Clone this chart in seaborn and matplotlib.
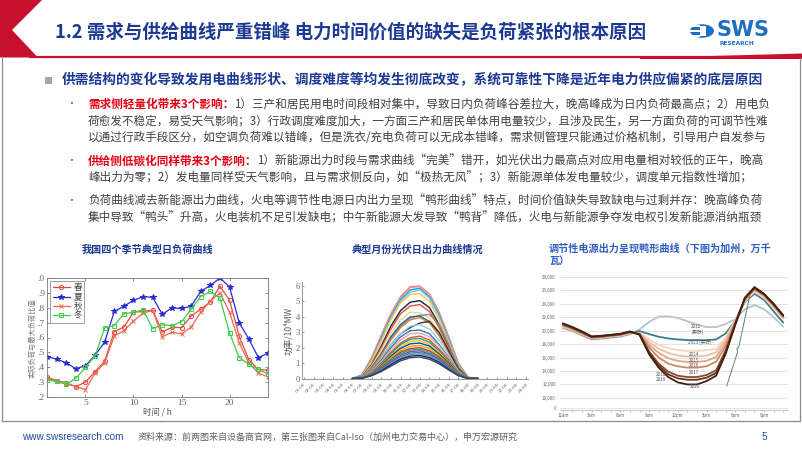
import numpy as np
import pandas as pd
import matplotlib
matplotlib.use("Agg")
import matplotlib.pyplot as plt
import seaborn as sns
from matplotlib.patches import Polygon, Rectangle, Circle
from matplotlib.lines import Line2D

W, H = 802, 451

# ---------------- text content ----------------
title_text = "1.2 需求与供给曲线严重错峰 电力时间价值的缺失是负荷紧张的根本原因"
heading_text = "供需结构的变化导致发用电曲线形状、调度难度等均发生彻底改变，系统可靠性下降是近年电力供应偏紧的底层原因"
b1_red = "需求侧轻量化带来3个影响："
b1_l1 = "1）三产和居民用电时间段相对集中，导致日内负荷峰谷差拉大，晚高峰成为日内负荷最高点；2）用电负"
b1_l2 = "荷愈发不稳定，易受天气影响；3）行政调度难度加大，一方面三产和居民单体用电量较少，且涉及民生，另一方面负荷的可调节性难"
b1_l3 = "以通过行政手段区分，如空调负荷难以错峰，但是洗衣/充电负荷可以无成本错峰，需求侧管理只能通过价格机制，引导用户自发参与"
b2_red = "供给侧低碳化同样带来3个影响："
b2_l1 = "1）新能源出力时段与需求曲线“完美”错开，如光伏出力最高点对应用电量相对较低的正午，晚高"
b2_l2 = "峰出力为零；2）发电量同样受天气影响，且与需求侧反向，如“极热无风”；3）新能源单体发电量较少，调度单元指数性增加；"
b3_l1 = "负荷曲线减去新能源出力曲线，火电等调节性电源日内出力呈现“鸭形曲线”特点，时间价值缺失导致缺电与过剩并存：晚高峰负荷"
b3_l2 = "集中导致“鸭头”升高，火电装机不足引发缺电；中午新能源大发导致“鸭背”降低，火电与新能源争夺发电权引发新能源消纳瓶颈"
chart1_title = "我国四个季节典型日负荷曲线"
chart2_title = "典型月份光伏日出力曲线情况"
chart3_title_1 = "调节性电源出力呈现鸭形曲线（下图为加州，万千"
chart3_title_2 = "瓦）"
footer_url = "www.swsresearch.com"
footer_source = "资料来源：前两图来自设备商官网，第三张图来自Cal-Iso（加州电力交易中心），申万宏源研究"
page_number = "5"

# ---------------- chart 1: seasonal daily load ----------------
hours = list(range(1, 25))
season_names = ["春", "夏", "秋", "冬"]
spring = [0.335, 0.31, 0.295, 0.27, 0.30, 0.37, 0.44, 0.64, 0.67, 0.77, 0.775, 0.785,
          0.635, 0.67, 0.665, 0.745, 0.79, 0.84, 0.945, 0.85, 0.61, 0.45, 0.385, 0.38]
summer = [0.47, 0.455, 0.43, 0.39, 0.41, 0.48, 0.57, 0.775, 0.81, 0.85, 0.875, 0.87,
          0.755, 0.80, 0.795, 0.81, 0.91, 0.95, 1.0, 0.94, 0.70, 0.59, 0.465, 0.495]
autumn = [0.33, 0.305, 0.29, 0.27, 0.25, 0.36, 0.43, 0.61, 0.645, 0.71, 0.765, 0.78,
          0.605, 0.635, 0.625, 0.67, 0.77, 0.845, 0.90, 0.77, 0.565, 0.43, 0.36, 0.335]
winter = [0.315, 0.305, 0.285, 0.325, 0.40, 0.475, 0.665, 0.68, 0.76, 0.77, 0.785, 0.66,
          0.685, 0.68, 0.705, 0.79, 0.875, 0.91, 0.865, 0.63, 0.465, 0.42, 0.385, 0.355]
c1_xticks = [5, 10, 15, 20]
c1_yticks = [0.2, 0.3, 0.4, 0.5, 0.6, 0.7, 0.8, 0.9, 1.0]
c1_yticklabels = [".2", ".3", ".4", ".5", ".6", ".7", ".8", ".9", ".0"]
c1_xlabel = "时间 / h"
c1_ylabel = "实际负荷与最大负荷比值"

# ---------------- chart 2: PV daily output ----------------
pv_hours = list(range(6, 20))
pv_curves = [
    [0, 0.25, 1.35, 2.80, 4.20, 5.30, 5.95, 6.00, 5.50, 4.30, 2.70, 1.00, 0.10, 0],
    [0, 0.20, 1.25, 2.70, 4.10, 5.20, 5.90, 5.95, 5.45, 4.20, 2.60, 0.95, 0.08, 0],
    [0, 0.20, 1.20, 2.60, 4.00, 5.10, 5.75, 5.85, 5.30, 4.10, 2.50, 0.90, 0.05, 0],
    [0, 0.18, 1.15, 2.50, 3.90, 5.00, 5.60, 5.75, 5.20, 4.00, 2.45, 0.85, 0.05, 0],
    [0, 0.15, 1.10, 2.40, 3.80, 4.90, 5.45, 5.50, 5.00, 3.80, 2.30, 0.80, 0.05, 0],
    [0, 0.12, 0.90, 2.10, 3.40, 4.40, 4.95, 5.05, 4.60, 3.50, 2.10, 0.70, 0.04, 0],
    [0, 0.10, 0.85, 2.00, 3.20, 4.20, 4.70, 4.80, 4.35, 3.30, 2.00, 0.65, 0.03, 0],
    [0, 0.10, 0.80, 1.80, 2.90, 3.80, 4.30, 4.25, 3.90, 3.00, 1.80, 0.60, 0.03, 0],
    [0, 0.08, 0.70, 1.60, 2.60, 3.40, 3.90, 4.10, 4.15, 3.50, 2.20, 0.70, 0.03, 0],
    [0, 0.08, 0.70, 1.60, 2.70, 3.50, 4.00, 4.05, 3.70, 2.80, 1.70, 0.55, 0.02, 0],
    [0, 0.07, 0.65, 1.50, 2.50, 3.30, 3.80, 3.95, 3.60, 2.80, 1.70, 0.55, 0.02, 0],
    [0, 0.06, 0.55, 1.30, 2.20, 2.90, 3.30, 3.60, 3.70, 3.00, 1.80, 0.60, 0.02, 0],
    [0, 0.06, 0.55, 1.30, 2.20, 2.90, 3.40, 3.50, 3.20, 2.50, 1.50, 0.50, 0.02, 0],
    [0, 0.05, 0.50, 1.20, 2.00, 2.70, 3.10, 3.15, 2.90, 2.20, 1.35, 0.45, 0.02, 0],
    [0, 0.05, 0.45, 1.10, 1.85, 2.50, 2.90, 2.95, 2.70, 2.10, 1.30, 0.45, 0.01, 0],
    [0, 0.04, 0.40, 1.00, 1.70, 2.30, 2.65, 2.75, 2.50, 1.90, 1.20, 0.40, 0.01, 0],
    [0, 0.04, 0.38, 0.95, 1.60, 2.20, 2.55, 2.60, 2.35, 1.80, 1.10, 0.38, 0.01, 0],
    [0, 0.04, 0.36, 0.90, 1.50, 2.05, 2.40, 2.45, 2.20, 1.70, 1.05, 0.35, 0.01, 0],
    [0, 0.03, 0.33, 0.85, 1.45, 1.95, 2.25, 2.30, 2.10, 1.60, 1.00, 0.33, 0.01, 0],
    [0, 0.03, 0.30, 0.80, 1.35, 1.80, 2.10, 2.15, 1.95, 1.50, 0.90, 0.30, 0.01, 0],
    [0, 0.03, 0.30, 0.75, 1.25, 1.70, 1.95, 2.00, 1.80, 1.40, 0.85, 0.30, 0.01, 0],
    [0, 0.03, 0.28, 0.70, 1.20, 1.60, 1.85, 1.90, 1.70, 1.30, 0.80, 0.28, 0.01, 0],
    [0, 0.02, 0.26, 0.65, 1.10, 1.50, 1.75, 1.80, 1.60, 1.25, 0.75, 0.26, 0.01, 0],
    [0, 0.02, 0.25, 0.60, 1.05, 1.40, 1.65, 1.70, 1.55, 1.20, 0.70, 0.25, 0.01, 0],
    [0, 0.02, 0.22, 0.55, 0.95, 1.30, 1.55, 1.60, 1.45, 1.10, 0.65, 0.22, 0.00, 0],
    [0, 0.02, 0.20, 0.50, 0.90, 1.25, 1.45, 1.50, 1.35, 1.05, 0.60, 0.20, 0.00, 0],
    [0, 0.02, 0.18, 0.45, 0.80, 1.15, 1.35, 1.40, 1.25, 0.95, 0.55, 0.18, 0.00, 0],
]
pv_colors = ["#e8736f", "#f0a0a0", "#1f9bd7", "#7fc6e0", "#f2c94c", "#222222", "#d9534f",
             "#f5d76e", "#8a8a8a", "#1565c0", "#e67e22", "#333333", "#9ad0e8", "#2b7bb9",
             "#f4a6a0", "#e74c3c", "#16a085", "#f1c40f", "#0d47a1", "#f39c12", "#c0392b",
             "#27ae60", "#8e44ad", "#2e86c1", "#7f8c8d", "#1a237e", "#34495e"]
pv_all_hours = list(range(1, 25))
pv_baseline = [0] * 24
pv_xticklabels = ["01:00", "02:00", "03:00", "04:00", "05:00", "06:00", "07:00", "08:00",
                  "09:00", "10:00", "11:00", "12:00", "13:00", "14:00", "15:00", "16:00",
                  "17:00", "18:00", "19:00", "20:00", "21:00", "22:00", "23:00", "24:00"]
pv_yticks = [0, 1, 2, 3, 4, 5, 6]
pv_ylabel = "功率/10⁴MW"

# ---------------- chart 3: California duck curve ----------------
duck_hours = list(range(24))
duck_years = ["2012", "2013", "2014", "2015", "2016", "2017", "2018", "2019", "2020"]
duck_2012 = [20400, 19900, 19300, 18700, 18800, 18950, 19100, 19450, 20200, 21300, 22100, 22150,
             21900, 21400, 20900, 20550, 20550, 21000, 21700, 23200, 23800, 23200, 22000, 20600]
duck_2013 = [20500, 20000, 19400, 18800, 18900, 19050, 19200, 19550, 19950, 19500, 19100, 18850,
             18700, 18600, 18600, 18600, 18700, 19600, 21500, 24300, 25500, 24600, 22900, 21200]
duck_2014 = [20550, 20050, 19450, 18850, 18950, 19100, 19250, 19600, 19700, 18700, 17900, 17400,
             17100, 17000, 17000, 17100, 17300, 19000, 21600, 24400, 25800, 24900, 23400, 21800]
duck_2015 = [20650, 20100, 19500, 18900, 19000, 19150, 19300, 19650, 19650, 18300, 17300, 16700,
             16300, 16150, 16150, 16300, 16800, 18600, 21500, 24500, 26000, 25100, 23600, 21900]
duck_2016 = [20750, 20200, 19600, 18950, 19050, 19200, 19350, 19700, 19600, 17900, 16700, 15900,
             15500, 15350, 15350, 15500, 16100, 18200, 21400, 24600, 26100, 25200, 23700, 22000]
duck_2017 = [20850, 20300, 19650, 19000, 19100, 19250, 19400, 19750, 19550, 17500, 16000, 15100,
             14700, 14500, 14500, 14700, 15400, 17700, 21300, 24700, 26200, 25300, 23800, 22100]
duck_2018 = [20950, 20400, 19750, 19050, 19150, 19300, 19450, 19800, 19500, 16900, 15100, 13900,
             13300, 13100, 13100, 13400, 14100, 17100, 21100, 24800, 26300, 25400, 23900, 22200]
duck_2019 = [21000, 20450, 19800, 19100, 19200, 19350, 19500, 19850, 19450, 16700, 14800, 13500,
             12900, 12700, 12700, 13000, 13700, 16800, 21000, 24850, 26400, 25450, 23950, 22250]
duck_2020 = [21100, 20550, 19900, 19150, 19250, 19400, 19550, 19900, 19400, 16500, 14500, 13100,
             12300, 12000, 12000, 12500, 13300, 16600, 20900, 24900, 26500, 25500, 24000, 22300]
duck_colors = ["#b4c4ce", "#3d7d8a", "#f4d6c4", "#ecc0a5", "#e0a585", "#cc8866",
               "#8c4a2e", "#663220", "#43200f"]
ramp_x = [17.1, 18.25, 18.15, 18.35, 19.5]
ramp_y = [11750, 16900, 17300, 17500, 25130]
duck_xticks = [0, 3, 6, 9, 12, 15, 18, 21]
duck_xticklabels = ["12am", "3am", "6am", "9am", "12pm", "3pm", "6pm", "9pm"]
duck_yticks = [8420, 10000, 12000, 14000, 16000, 18000, 20000, 22000, 24000, 26000, 28000]
duck_yticklabels = ["0", "10,000", "12,000", "14,000", "16,000", "18,000", "20,000",
                    "22,000", "24,000", "26,000", "28,000"]
duck_labels = ["2012", "(实际)", "2013 (实际)", "2014", "2015", "2016", "2017", "2018", "2019", "2020"]

# ---------------- figure ----------------
sns.set_theme(style="white")
plt.rcParams["font.family"] = ["Noto Sans CJK SC", "DejaVu Sans"]
plt.rcParams["axes.unicode_minus"] = False

fig = plt.figure(figsize=(W / 100, H / 100), dpi=100)
fig.patch.set_facecolor("white")


def P(x, y):
    return (x / W, 1 - y / H)


def ftext(x, y, s, **kw):
    kw.setdefault("va", "center")
    kw.setdefault("ha", "left")
    return fig.text(x / W, 1 - y / H, s, **kw)


def axes_px(l, t, r, b):
    return fig.add_axes([l / W, 1 - b / H, (r - l) / W, (b - t) / H])


RED = "#c8102e"
BLUE = "#1c3a94"
TXT = "#404040"
BRED = "#e60012"

# header decorations
fig.add_artist(Polygon([P(0, 0), P(42, 0), P(12, 30), P(38, 57.5), P(0, 57.5)], closed=True,
                       facecolor=RED, edgecolor="none", transform=fig.transFigure))
fig.add_artist(Line2D([30 / W, 1], [1 - 57 / H, 1 - 57 / H], color=RED, lw=1.6,
                      transform=fig.transFigure))
fig.add_artist(Polygon([P(640, 58), P(802, 53.5), P(802, 59), P(640, 59)], closed=True,
                       facecolor=RED, edgecolor="none", transform=fig.transFigure))
ftext(55, 32, title_text, fontsize=13.3, color=BLUE, fontweight="bold")

# logo
fig.add_artist(Circle(P(702, 31), 12 / W, facecolor="#1e6fc2", edgecolor="none",
                      transform=fig.transFigure))
for yy in (25.5, 30.5, 35.5):
    fig.add_artist(Rectangle(P(688, yy + 1.0), 12 / W, 1.6 / H, facecolor="white",
                             edgecolor="none", transform=fig.transFigure))
fig.add_artist(Rectangle(P(700, 36), 6 / W, 10 / H, facecolor="white", edgecolor="none",
                         transform=fig.transFigure))
ftext(716, 29.5, "SWS", fontsize=15, color="#1e6fc2", fontweight="bold",
      family=["DejaVu Sans"])
ftext(719, 43.5, "RESEARCH", fontsize=4.2, color="#1e6fc2", fontweight="bold",
      family=["DejaVu Sans"])

# frame
fig.add_artist(Line2D([1.5 / W, 1.5 / W, 799.5 / W, 799.5 / W],
                      [1 - 58 / H, 1 - 421 / H, 1 - 421 / H, 1 - 58 / H],
                      color="#8c8c8c", lw=0.9, transform=fig.transFigure))

# body text
fig.add_artist(Rectangle(P(45, 83.5), 7 / W, 7 / H, facecolor="#a6a6a6", edgecolor="none",
                         transform=fig.transFigure))
ftext(62, 80, heading_text, fontsize=9.9, color=BLUE, fontweight="bold")

renderer = fig.canvas.get_renderer()
BS = 8.35


def rich_line(x, y, parts):
    for s, color, weight in parts:
        t = ftext(x, y, s, fontsize=BS, color=color, fontweight=weight)
        bb = t.get_window_extent(renderer=renderer)
        x = bb.x1


for yy in (104, 161, 201):
    ftext(66, yy, "•", fontsize=7, color="#2f6fc0")
rich_line(88, 104, [(b1_red, BRED, "bold"), (b1_l1, TXT, "normal")])
ftext(88, 121, b1_l2, fontsize=BS, color=TXT)
ftext(88, 138, b1_l3, fontsize=BS, color=TXT)
rich_line(88, 161, [(b2_red, BRED, "bold"), (b2_l1, TXT, "normal")])
ftext(88, 178, b2_l2, fontsize=BS, color=TXT)
ftext(88, 201, b3_l1, fontsize=BS, color=TXT)
ftext(88, 218, b3_l2, fontsize=BS, color=TXT)

# chart titles
ftext(147, 250, chart1_title, fontsize=7.3, color=BLUE, fontweight="bold", ha="center")
ftext(417, 250, chart2_title, fontsize=7.3, color=BLUE, fontweight="bold", ha="center")
ftext(549, 249, chart3_title_1, fontsize=7.3, color="#2f5fc0", fontweight="bold")
ftext(549, 261, chart3_title_2, fontsize=7.3, color="#2f5fc0", fontweight="bold")

SERIF = ["Liberation Serif", "Noto Sans CJK SC"]

# ---- chart 1 ----
ax1 = axes_px(47, 278, 268, 397)
season_vals = [spring, summer, autumn, winter]
season_colors = ["#e4493f", "#2a2ad6", "#ef6a52", "#3fcf45"]
season_markers = ["o", "*", "x", "s"]
season_mfc = ["none", "#2a2ad6", "#ef6a52", "none"]
season_ms = [3.0, 4.2, 2.4, 3.0]
for name, vals, c, m, mfc, ms in zip(season_names, season_vals, season_colors,
                                      season_markers, season_mfc, season_ms):
    sns.lineplot(x=hours, y=vals, ax=ax1, color=c, marker=m, markersize=ms,
                 markerfacecolor=mfc, markeredgecolor=c, markeredgewidth=0.7,
                 linewidth=0.9, label=name)
ax1.set_xlim(1, 24)
ax1.set_ylim(0.2, 1.0)
ax1.set_xticks(c1_xticks)
ax1.set_xticklabels([str(v) for v in c1_xticks], family=SERIF, fontsize=6.8, color="#555555")
ax1.set_yticks(c1_yticks)
ax1.set_yticklabels(c1_yticklabels, family=SERIF, fontsize=6.8, color="#555555")
ax1.tick_params(axis="both", direction="in", length=2, width=0.5, pad=1.5,
                top=True, right=True, bottom=True, left=True, colors="#666666")
for sp in ax1.spines.values():
    sp.set_color("#777777")
    sp.set_linewidth(0.6)
ax1.set_xlabel(c1_xlabel, fontsize=6, color="#555555", labelpad=0)
ax1.set_ylabel("")
ftext(32, 338, c1_ylabel, fontsize=5.2, color="#777777", rotation=90, ha="center")
leg = ax1.legend(loc="upper left", bbox_to_anchor=(0.015, 0.975), fontsize=6.3,
                 frameon=True, fancybox=False, framealpha=1, edgecolor="#777777",
                 handlelength=2.0, handletextpad=0.4, borderpad=0.25, labelspacing=0.05,
                 borderaxespad=0)
leg.get_frame().set_linewidth(0.5)
for t in leg.get_texts():
    t.set_color("#444444")

# ---- chart 2 ----
ax2 = axes_px(302, 282, 528, 379)
pv_rows = []
for i, curve in enumerate(pv_curves):
    for h, v in zip(pv_hours, curve):
        pv_rows.append({"hour": h, "power": v, "curve": i})
df_pv = pd.DataFrame(pv_rows)
sns.lineplot(x=pv_all_hours, y=pv_baseline, ax=ax2, color="#e8b04a", linewidth=0.9,
             linestyle=(0, (2, 2)))
sns.lineplot(data=df_pv, x="hour", y="power", hue="curve", palette=pv_colors,
             legend=False, ax=ax2, linewidth=1.0)
ax2.set_xlim(0.8, 24.2)
ax2.set_ylim(-0.03, 6.26)
ax2.set_xticks(pv_all_hours)
ax2.set_xticklabels(pv_xticklabels, rotation=45, ha="right", fontsize=3.9,
                    color="#666666", family=SERIF, rotation_mode="anchor")
ax2.set_yticks(pv_yticks)
ax2.set_yticklabels([str(v) for v in pv_yticks], fontsize=6.2, color="#555555", family=SERIF)
ax2.tick_params(axis="both", direction="in", length=1.5, width=0.5, pad=1.5,
                bottom=True, left=True, colors="#666666")
ax2.tick_params(axis="x", pad=2)
for k in ("top", "right"):
    ax2.spines[k].set_visible(False)
for k in ("left", "bottom"):
    ax2.spines[k].set_color("#888888")
    ax2.spines[k].set_linewidth(0.6)
ax2.set_xlabel("")
ax2.set_ylabel(pv_ylabel, fontsize=6.2, color="#555555", labelpad=2)

# ---- chart 3 ----
ax3 = axes_px(560, 276, 788, 410)
duck_series = [duck_2012, duck_2013, duck_2014, duck_2015, duck_2016, duck_2017,
               duck_2018, duck_2019, duck_2020]
duck_rows = []
for yr, vals in zip(duck_years, duck_series):
    for h, v in zip(duck_hours, vals):
        duck_rows.append({"hour": h, "load": v, "year": yr})
df_duck = pd.DataFrame(duck_rows)
ax3.yaxis.grid(True, color="#dedede", linewidth=0.6)
ax3.set_axisbelow(True)
sns.lineplot(data=df_duck, x="hour", y="load", hue="year", palette=duck_colors,
             legend=False, ax=ax3, linewidth=1.3)
sns.lineplot(x=ramp_x, y=ramp_y, sort=False, ax=ax3, color="#5d7f8e", linewidth=0.7)
ax3.set_xlim(-0.3, 23.5)
ax3.set_ylim(8190, 28150)
ax3.set_xticks(duck_xticks)
ax3.set_xticklabels(duck_xticklabels, fontsize=3.2, color="#666666")
ax3.set_xticks(list(range(24)), minor=True)
ax3.set_yticks(duck_yticks)
ax3.set_yticklabels(duck_yticklabels, fontsize=3.2, color="#666666")
ax3.tick_params(axis="x", which="both", direction="out", length=1.5, width=0.4, pad=0.5,
                bottom=True, colors="#999999", labelcolor="#666666")
ax3.tick_params(axis="y", length=0, pad=3)
for k in ("top", "right", "left"):
    ax3.spines[k].set_visible(False)
ax3.spines["bottom"].set_color("#bbbbbb")
ax3.spines["bottom"].set_linewidth(0.6)
ax3.set_xlabel("")
ax3.set_ylabel("")
lab_pos = [(13.4, 20600), (13.4, 19700), (13.1, 18350), (13.1, 16400), (13.1, 15550),
           (13.1, 14750), (13.1, 13800), (9.7, 13450), (9.7, 12800), (13.2, 11650)]
for s, (hx, vy) in zip(duck_labels, lab_pos):
    ax3.text(hx, vy, s, fontsize=3.3, color="#555555", va="center", ha="left")

# footer
ftext(22, 437, footer_url, fontsize=7.2, color="#1f4e9c", family=["Liberation Sans"])
ftext(138, 437, footer_source, fontsize=6.5, color="#606060")
ftext(762, 437, page_number, fontsize=7.2, color="#1f4e9c", family=["Liberation Sans"])

fig.savefig("out.png", dpi=100)
